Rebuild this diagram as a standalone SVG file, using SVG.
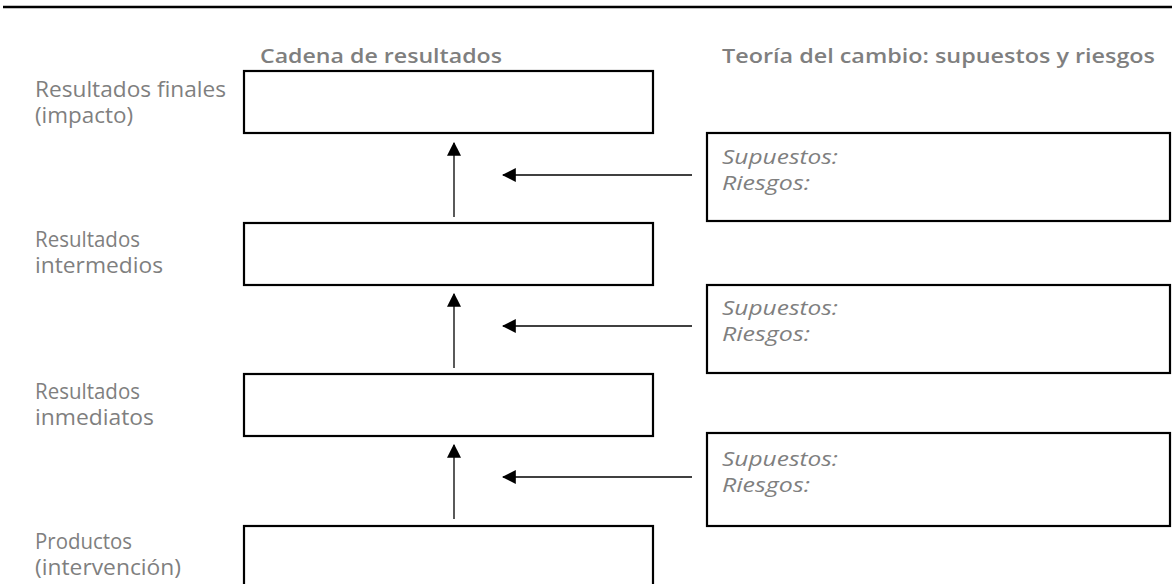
<svg xmlns="http://www.w3.org/2000/svg" width="1172" height="584" viewBox="0 0 1172 584">
<style>
.box{fill:#fff;stroke:#000;stroke-width:2.2}
.lbl{font-family:"Open Sans","Noto Sans",sans-serif;font-size:21px;fill:#7f7f7f;font-weight:400}
.hdr{font-family:"Open Sans","Noto Sans",sans-serif;font-size:19px;font-weight:600;fill:#7f7f7f}
.it{font-family:"Open Sans","Noto Sans",sans-serif;font-size:20px;font-style:italic;fill:#7f7f7f;font-weight:400}
.con{stroke:#000;stroke-width:1.3;fill:none;marker-end:url(#ah)}
</style>
<defs>
<marker id="ah" viewBox="0 0 12 12" refX="11" refY="6" markerWidth="14" markerHeight="14" markerUnits="userSpaceOnUse" orient="auto">
<path d="M0,0 L12,6 L0,12 z" fill="#000"/>
</marker>
</defs>
<rect width="1172" height="584" fill="#fff"/>
<line x1="3" y1="7" x2="1172" y2="7" stroke="#000" stroke-width="2.4"/>
<g id="headers">
<text class="hdr" x="260" y="63" textLength="242" lengthAdjust="spacingAndGlyphs">Cadena de resultados</text>
<text class="hdr" x="722" y="63" textLength="433" lengthAdjust="spacingAndGlyphs">Teoría del cambio: supuestos y riesgos</text>
</g>
<g id="n-final">
<rect class="box" x="244" y="71" width="409" height="62"/>
<text class="lbl" x="35" y="97" textLength="191" lengthAdjust="spacingAndGlyphs">Resultados finales</text>
<text class="lbl" x="35" y="123" textLength="98" lengthAdjust="spacingAndGlyphs">(impacto)</text>
</g>
<g id="n-intermedios">
<rect class="box" x="244" y="223" width="409" height="62"/>
<text class="lbl" x="35" y="247" textLength="105" lengthAdjust="spacingAndGlyphs">Resultados</text>
<text class="lbl" x="35" y="273" textLength="128" lengthAdjust="spacingAndGlyphs">intermedios</text>
</g>
<g id="n-inmediatos">
<rect class="box" x="244" y="374" width="409" height="62"/>
<text class="lbl" x="35" y="399" textLength="105" lengthAdjust="spacingAndGlyphs">Resultados</text>
<text class="lbl" x="35" y="425" textLength="119" lengthAdjust="spacingAndGlyphs">inmediatos</text>
</g>
<g id="n-productos">
<rect class="box" x="244" y="526" width="409" height="70"/>
<text class="lbl" x="35" y="549" textLength="97" lengthAdjust="spacingAndGlyphs">Productos</text>
<text class="lbl" x="35" y="575" textLength="146" lengthAdjust="spacingAndGlyphs">(intervención)</text>
</g>
<g id="t1">
<rect class="box" x="707" y="133" width="463" height="88"/>
<text class="it" x="722" y="164" textLength="116" lengthAdjust="spacingAndGlyphs">Supuestos:</text>
<text class="it" x="722" y="190" textLength="88" lengthAdjust="spacingAndGlyphs">Riesgos:</text>
</g>
<g id="t2">
<rect class="box" x="707" y="285" width="463" height="88"/>
<text class="it" x="722" y="315" textLength="116" lengthAdjust="spacingAndGlyphs">Supuestos:</text>
<text class="it" x="722" y="341" textLength="88" lengthAdjust="spacingAndGlyphs">Riesgos:</text>
</g>
<g id="t3">
<rect class="box" x="707" y="433" width="463" height="93"/>
<text class="it" x="722" y="466" textLength="116" lengthAdjust="spacingAndGlyphs">Supuestos:</text>
<text class="it" x="722" y="492" textLength="88" lengthAdjust="spacingAndGlyphs">Riesgos:</text>
</g>
<g id="connectors">
<line class="con" x1="454" y1="217" x2="454" y2="143"/>
<line class="con" x1="692" y1="175" x2="503" y2="175"/>
<line class="con" x1="454" y1="368" x2="454" y2="294"/>
<line class="con" x1="692" y1="326" x2="503" y2="326"/>
<line class="con" x1="454" y1="519" x2="454" y2="445"/>
<line class="con" x1="692" y1="477" x2="503" y2="477"/>
</g>
</svg>
